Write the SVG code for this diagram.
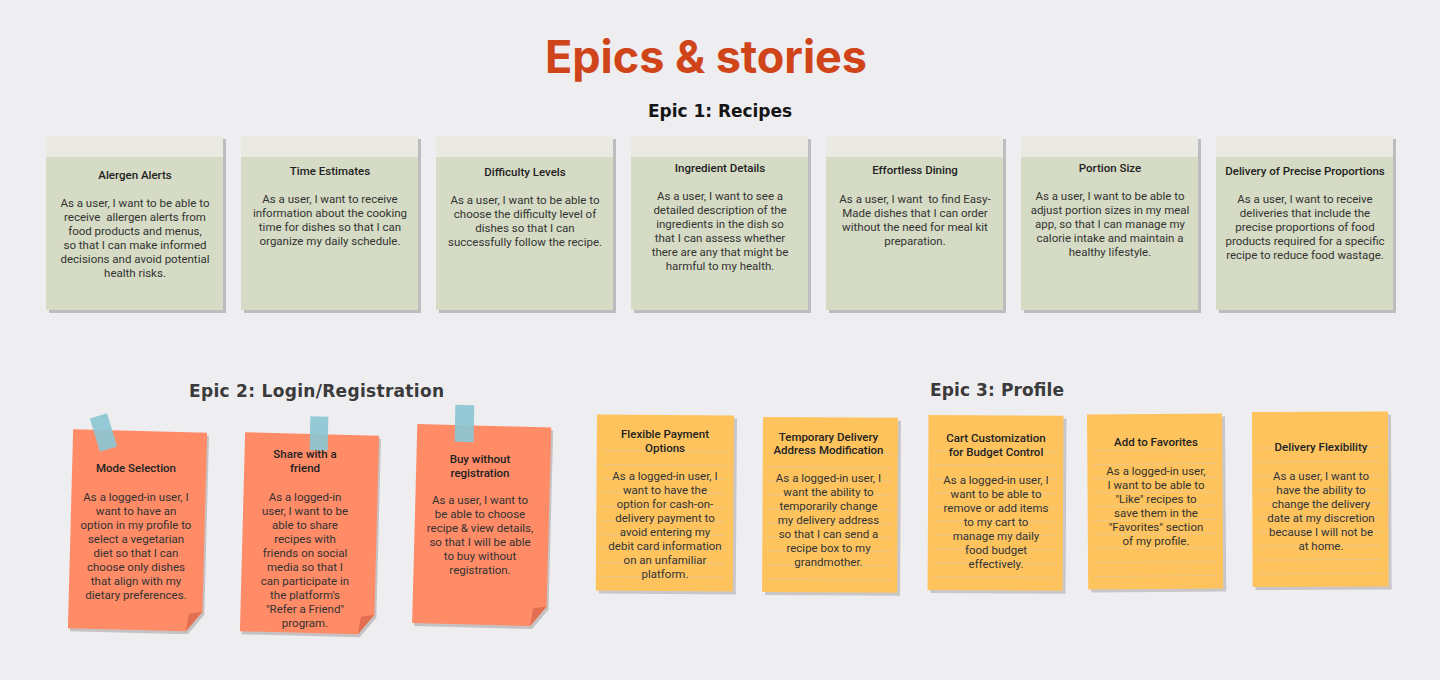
<svg xmlns="http://www.w3.org/2000/svg" xmlns:xlink="http://www.w3.org/1999/xlink" width="1440" height="680" viewBox="0 0 1440 680">
<style>
.bg{fill:#EEEDF0}
.h1{font-family:Inter,Roboto,"Liberation Sans",sans-serif;font-weight:700;font-size:45px;fill:#D0441A;text-anchor:middle}
.h2{font-family:"DejaVu Sans","Open Sans","Liberation Sans",sans-serif;font-weight:700;font-size:17px;text-anchor:middle}
.t{font-family:Roboto,"Liberation Sans",sans-serif;font-weight:500;font-size:11.5px;fill:#222;text-anchor:middle}
.b{font-family:Roboto,"Liberation Sans",sans-serif;font-weight:400;font-size:11.5px;fill:#333;text-anchor:middle}
.gshadow{fill:#BDBCBE}
.gcard{fill:#D5DBC4}
.gband{fill:#EBEAE2}
.oshadow{fill:#C6C2C4}
.ocard{fill:#FF8B67}
.ofold{fill:#E26F50}
.tape{fill:#8CC7D3;opacity:0.92}
.yshadow{fill:#C9C6C9}
.ycard{fill:#FEC35D}
.ylines{fill:none;stroke:#EFC88A;stroke-width:1}
</style>
<defs>
<path id="ocard" d="M-67 -99.5H67V79.5L51 99.5H-67Z"/>
<path id="ofold" d="M67 79.5L51 99.5L53.5 82Z"/>
<path id="lines" d="M6 36H129M6 50H129M6 64H129M6 78H129M6 92H129M6 106H129M6 120H129M6 134H129M6 148H129M6 162H129"/>
</defs>
<rect class="bg" x="0" y="0" width="1440" height="680"/>

<g id="headings">
<text class="h1" x="706" y="73" textLength="322">Epics &amp; stories</text>
<text class="h2" x="720" y="117" fill="#151515" textLength="144">Epic 1: Recipes</text>
<text class="h2" x="316.5" y="396.5" fill="#3A3A3A" textLength="255">Epic 2: Login/Registration</text>
<text class="h2" x="997" y="396" fill="#3A3A3A" textLength="134">Epic 3: Profile</text>
</g>

<!-- Epic 1 -->
<g id="alergen-alerts">
<rect class="gshadow" x="49" y="139" width="177" height="174"/>
<rect class="gcard" x="46" y="136" width="177" height="174"/>
<rect class="gband" x="46" y="136" width="177" height="21"/>
<text class="t" x="135" y="179">Alergen Alerts</text>
<text class="b" x="135" y="207" xml:space="preserve"><tspan x="135">As a user, I want to be able to</tspan><tspan x="135" dy="14">receive  allergen alerts from</tspan><tspan x="135" dy="14">food products and menus,</tspan><tspan x="135" dy="14">so that I can make informed</tspan><tspan x="135" dy="14">decisions and avoid potential</tspan><tspan x="135" dy="14">health risks.</tspan></text>
</g>

<g id="time-estimates">
<rect class="gshadow" x="244" y="139" width="177" height="174"/>
<rect class="gcard" x="241" y="136" width="177" height="174"/>
<rect class="gband" x="241" y="136" width="177" height="21"/>
<text class="t" x="330" y="175">Time Estimates</text>
<text class="b" x="330" y="203"><tspan x="330">As a user, I want to receive</tspan><tspan x="330" dy="14">information about the cooking</tspan><tspan x="330" dy="14">time for dishes so that I can</tspan><tspan x="330" dy="14">organize my daily schedule.</tspan></text>
</g>

<g id="difficulty-levels">
<rect class="gshadow" x="439" y="139" width="177" height="174"/>
<rect class="gcard" x="436" y="136" width="177" height="174"/>
<rect class="gband" x="436" y="136" width="177" height="21"/>
<text class="t" x="525" y="176">Difficulty Levels</text>
<text class="b" x="525" y="204"><tspan x="525">As a user, I want to be able to</tspan><tspan x="525" dy="14">choose the difficulty level of</tspan><tspan x="525" dy="14">dishes so that I can</tspan><tspan x="525" dy="14">successfully follow the recipe.</tspan></text>
</g>

<g id="ingredient-details">
<rect class="gshadow" x="634" y="139" width="177" height="174"/>
<rect class="gcard" x="631" y="136" width="177" height="174"/>
<rect class="gband" x="631" y="136" width="177" height="21"/>
<text class="t" x="720" y="172">Ingredient Details</text>
<text class="b" x="720" y="200"><tspan x="720">As a user, I want to see a</tspan><tspan x="720" dy="14">detailed description of the</tspan><tspan x="720" dy="14">ingredients in the dish so</tspan><tspan x="720" dy="14">that I can assess whether</tspan><tspan x="720" dy="14">there are any that might be</tspan><tspan x="720" dy="14">harmful to my health.</tspan></text>
</g>

<g id="effortless-dining">
<rect class="gshadow" x="829" y="139" width="177" height="174"/>
<rect class="gcard" x="826" y="136" width="177" height="174"/>
<rect class="gband" x="826" y="136" width="177" height="21"/>
<text class="t" x="915" y="174">Effortless Dining</text>
<text class="b" x="915" y="203" xml:space="preserve"><tspan x="915">As a user, I want  to find Easy-</tspan><tspan x="915" dy="14">Made dishes that I can order</tspan><tspan x="915" dy="14">without the need for meal kit</tspan><tspan x="915" dy="14">preparation.</tspan></text>
</g>

<g id="portion-size">
<rect class="gshadow" x="1024" y="139" width="177" height="174"/>
<rect class="gcard" x="1021" y="136" width="177" height="174"/>
<rect class="gband" x="1021" y="136" width="177" height="21"/>
<text class="t" x="1110" y="172">Portion Size</text>
<text class="b" x="1110" y="200"><tspan x="1110">As a user, I want to be able to</tspan><tspan x="1110" dy="14">adjust portion sizes in my meal</tspan><tspan x="1110" dy="14">app, so that I can manage my</tspan><tspan x="1110" dy="14">calorie intake and maintain a</tspan><tspan x="1110" dy="14">healthy lifestyle.</tspan></text>
</g>

<g id="precise-proportions">
<rect class="gshadow" x="1219" y="139" width="177" height="174"/>
<rect class="gcard" x="1216" y="136" width="177" height="174"/>
<rect class="gband" x="1216" y="136" width="177" height="21"/>
<text class="t" x="1305" y="175">Delivery of Precise Proportions</text>
<text class="b" x="1305" y="203"><tspan x="1305">As a user, I want to receive</tspan><tspan x="1305" dy="14">deliveries that include the</tspan><tspan x="1305" dy="14">precise proportions of food</tspan><tspan x="1305" dy="14">products required for a specific</tspan><tspan x="1305" dy="14">recipe to reduce food wastage.</tspan></text>
</g>

<!-- Epic 2 -->
<g id="mode-selection">
<g transform="translate(137.5,530.5) rotate(1.5)">
<use href="#ocard" class="oshadow" transform="translate(2,3)"/>
<use href="#ocard" class="ocard"/>
<use href="#ofold" class="ofold"/>
</g>
<rect class="tape" x="-9" y="-17.5" width="18" height="35" transform="translate(103.5,432.5) rotate(-17)"/>
<text class="t" x="136" y="471.7">Mode Selection</text>
<text class="b" x="136" y="500.7"><tspan x="136">As a logged-in user, I</tspan><tspan x="136" dy="14">want to have an</tspan><tspan x="136" dy="14">option in my profile to</tspan><tspan x="136" dy="14">select a vegetarian</tspan><tspan x="136" dy="14">diet so that I can</tspan><tspan x="136" dy="14">choose only dishes</tspan><tspan x="136" dy="14">that align with my</tspan><tspan x="136" dy="14">dietary preferences.</tspan></text>
</g>

<g id="share-with-friend">
<g transform="translate(309.5,533.5) rotate(1.5)">
<use href="#ocard" class="oshadow" transform="translate(2,3)"/>
<use href="#ocard" class="ocard"/>
<use href="#ofold" class="ofold"/>
</g>
<rect class="tape" x="-9" y="-17" width="18" height="34" transform="translate(319,433.5) rotate(1)"/>
<text class="t" x="305" y="458"><tspan x="305">Share with a</tspan><tspan x="305" dy="14">friend</tspan></text>
<text class="b" x="305" y="500.7"><tspan x="305">As a logged-in</tspan><tspan x="305" dy="14">user, I want to be</tspan><tspan x="305" dy="14">able to share</tspan><tspan x="305" dy="14">recipes with</tspan><tspan x="305" dy="14">friends on social</tspan><tspan x="305" dy="14">media so that I</tspan><tspan x="305" dy="14">can participate in</tspan><tspan x="305" dy="14">the platform's</tspan><tspan x="305" dy="14">"Refer a Friend"</tspan><tspan x="305" dy="14">program.</tspan></text>
</g>

<g id="buy-without-registration">
<g transform="translate(481.7,525.2) rotate(1.5)">
<use href="#ocard" class="oshadow" transform="translate(2,3)"/>
<use href="#ocard" class="ocard"/>
<use href="#ofold" class="ofold"/>
</g>
<rect class="tape" x="-9.5" y="-18.5" width="19" height="37" transform="translate(464.5,423.5) rotate(1)"/>
<text class="t" x="480" y="463.3"><tspan x="480">Buy without</tspan><tspan x="480" dy="14">registration</tspan></text>
<text class="b" x="480" y="504"><tspan x="480">As a user, I want to</tspan><tspan x="480" dy="14">be able to choose</tspan><tspan x="480" dy="14">recipe &amp; view details,</tspan><tspan x="480" dy="14">so that I will be able</tspan><tspan x="480" dy="14">to buy without</tspan><tspan x="480" dy="14">registration.</tspan></text>
</g>

<!-- Epic 3 -->
<g id="flexible-payment">
<g transform="translate(597,414.5) rotate(0.4)">
<rect class="yshadow" x="3" y="3" width="137" height="176"/>
<rect class="ycard" x="0" y="0" width="137" height="176"/>
<use href="#lines" class="ylines"/>
</g>
<text class="t" x="665" y="438.3"><tspan x="665">Flexible Payment</tspan><tspan x="665" dy="13.4">Options</tspan></text>
<text class="b" x="665" y="480"><tspan x="665">As a logged-in user, I</tspan><tspan x="665" dy="14">want to have the</tspan><tspan x="665" dy="14">option for cash-on-</tspan><tspan x="665" dy="14">delivery payment to</tspan><tspan x="665" dy="14">avoid entering my</tspan><tspan x="665" dy="14">debit card information</tspan><tspan x="665" dy="14">on an unfamiliar</tspan><tspan x="665" dy="14">platform.</tspan></text>
</g>

<g id="temporary-address">
<g transform="translate(763,417) rotate(0.3)">
<rect class="yshadow" x="3" y="3" width="135" height="175"/>
<rect class="ycard" x="0" y="0" width="135" height="175"/>
<use href="#lines" class="ylines"/>
</g>
<text class="t" x="828.5" y="440.7"><tspan x="828.5">Temporary Delivery</tspan><tspan x="828.5" dy="13.4">Address Modification</tspan></text>
<text class="b" x="828.5" y="481.7"><tspan x="828.5">As a logged-in user, I</tspan><tspan x="828.5" dy="14">want the ability to</tspan><tspan x="828.5" dy="14">temporarily change</tspan><tspan x="828.5" dy="14">my delivery address</tspan><tspan x="828.5" dy="14">so that I can send a</tspan><tspan x="828.5" dy="14">recipe box to my</tspan><tspan x="828.5" dy="14">grandmother.</tspan></text>
</g>

<g id="cart-customization">
<g transform="translate(928.5,415) rotate(0.3)">
<rect class="yshadow" x="3" y="3" width="135" height="175"/>
<rect class="ycard" x="0" y="0" width="135" height="175"/>
<use href="#lines" class="ylines"/>
</g>
<text class="t" x="996" y="442.3"><tspan x="996">Cart Customization</tspan><tspan x="996" dy="13.4">for Budget Control</tspan></text>
<text class="b" x="996" y="484"><tspan x="996">As a logged-in user, I</tspan><tspan x="996" dy="14">want to be able to</tspan><tspan x="996" dy="14">remove or add items</tspan><tspan x="996" dy="14">to my cart to</tspan><tspan x="996" dy="14">manage my daily</tspan><tspan x="996" dy="14">food budget</tspan><tspan x="996" dy="14">effectively.</tspan></text>
</g>

<g id="add-to-favorites">
<g transform="translate(1087,414.5) rotate(-0.4)">
<rect class="yshadow" x="3" y="3" width="135" height="175"/>
<rect class="ycard" x="0" y="0" width="135" height="175"/>
<use href="#lines" class="ylines"/>
</g>
<text class="t" x="1156" y="446.3">Add to Favorites</text>
<text class="b" x="1156" y="475"><tspan x="1156">As a logged-in user,</tspan><tspan x="1156" dy="14">I want to be able to</tspan><tspan x="1156" dy="14">"Like" recipes to</tspan><tspan x="1156" dy="14">save them in the</tspan><tspan x="1156" dy="14">"Favorites" section</tspan><tspan x="1156" dy="14">of my profile.</tspan></text>
</g>

<g id="delivery-flexibility">
<g transform="translate(1252,412) rotate(-0.2)">
<rect class="yshadow" x="3" y="3" width="136" height="175"/>
<rect class="ycard" x="0" y="0" width="136" height="175"/>
<use href="#lines" class="ylines"/>
</g>
<text class="t" x="1321" y="451.3">Delivery Flexibility</text>
<text class="b" x="1321" y="479.7"><tspan x="1321">As a user, I want to</tspan><tspan x="1321" dy="14">have the ability to</tspan><tspan x="1321" dy="14">change the delivery</tspan><tspan x="1321" dy="14">date at my discretion</tspan><tspan x="1321" dy="14">because I will not be</tspan><tspan x="1321" dy="14">at home.</tspan></text>
</g>
</svg>
